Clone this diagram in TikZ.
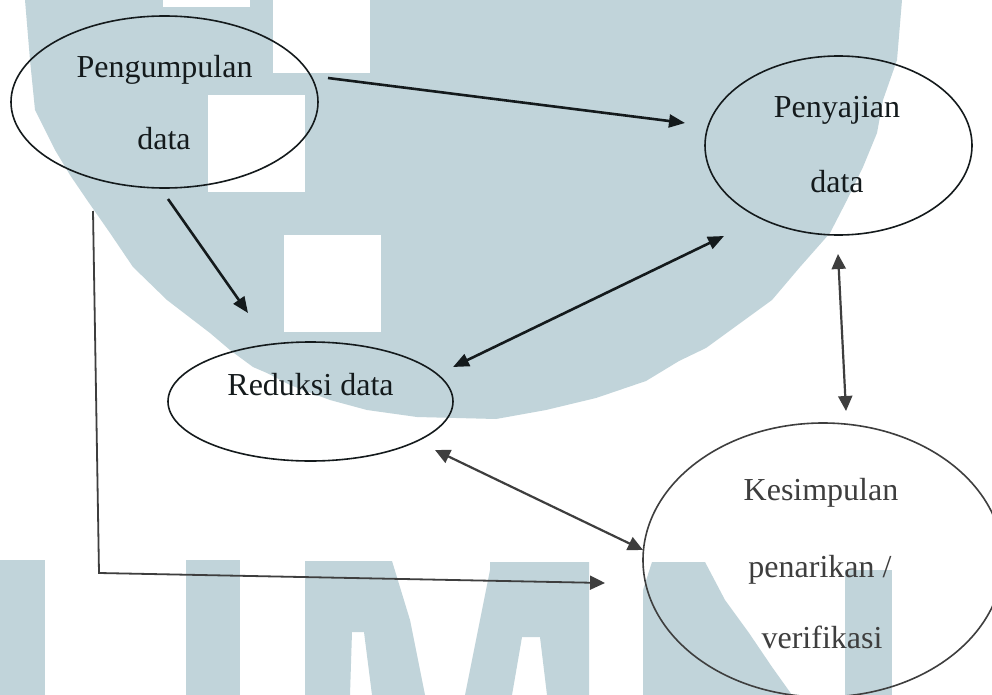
\documentclass[tikz,border=0pt]{standalone}
\usepackage{fontspec}
\setmainfont{Liberation Serif}
\usetikzlibrary{arrows.meta,shapes.geometric}
\definecolor{wm}{RGB}{193,212,218}
\definecolor{ink}{RGB}{20,26,28}
\definecolor{inkg}{RGB}{62,62,62}
\begin{document}
\begin{tikzpicture}[x=1pt,y=-1pt,
  oval/.style={ellipse,draw=ink,line width=1.6pt,inner sep=0pt,outer sep=0pt},
  lbl/.style={anchor=base,inner sep=0pt,font=\fontsize{32}{38}\selectfont,text=ink},
  lblg/.style={lbl,text=inkg},
  conn/.style={draw=ink,line width=2.6pt,-{Triangle[length=16pt,width=13pt]}},
  dconn/.style={draw=ink,line width=2.6pt,{Triangle[length=16pt,width=13pt]}-{Triangle[length=16pt,width=13pt]}},
  dconng/.style={draw=inkg,line width=2.2pt,{Triangle[length=15pt,width=14pt]}-{Triangle[length=15pt,width=14pt]}},
  elbow/.style={draw=inkg,line width=1.8pt,-{Triangle[length=15pt,width=14pt]}}]
\useasboundingbox (0,0) rectangle (992,695);
\fill[white] (0,0) rectangle (992,695);
% watermark
\fill[wm] (25,0) -- (902,0) -- (897,60) -- (883,100) -- (877,133) -- (863,167) -- (847,200) -- (830,233) -- (800,267) -- (772,300) -- (706,348) -- (679,361) -- (646,381) -- (596,398) -- (546,410) -- (496,419) -- (417,417) -- (367,410) -- (330,400) -- (290,385) -- (267,373) -- (253,367) -- (230,350) -- (210,333) -- (167,300) -- (133,267) -- (110,233) -- (87,200) -- (70,175) -- (55,150) -- (45,130) -- (35,110) -- (30,60) -- cycle;
\fill[white] (163,0) rectangle (250,7);
\fill[white] (273,0) rectangle (370,73);
\fill[white] (208,95) rectangle (305,192);
\fill[white] (284,235) rectangle (381,332);
\fill[wm] (0,560) rectangle (45,695);
\fill[wm] (186,560) rectangle (240,695);
\fill[wm] (305,561) -- (392,561) -- (410,620) -- (425,695) -- (372,695) -- (364,632) -- (352,632) -- (350,695) -- (305,695) -- cycle;
\fill[wm] (490,562) -- (589,562) -- (589,695) -- (547,695) -- (540,637) -- (522,637) -- (512,695) -- (465,695) -- (480,620) -- (490,570) -- cycle;
\fill[wm] (652,562) -- (705,562) -- (725,600) -- (749,633) -- (772,667) -- (792,695) -- (643,695) -- (643,590) -- cycle;
\fill[wm] (845,570) rectangle (892,695);
% ellipses
\node[oval,minimum width=307pt,minimum height=172pt] (e1) at (164.5,102) {};
\node[oval,minimum width=267pt,minimum height=179pt] (e2) at (838.5,145.5) {};
\node[oval,minimum width=285pt,minimum height=119pt] (e3) at (310.5,401.5) {};
\node[oval,draw=inkg,minimum width=360pt,minimum height=274pt] (e4) at (823,560) {};
% labels
\node[lbl] (t1a) at (164.5,78) {Pengumpulan};
\node[lbl] (t1b) at (164,150) {data};
\node[lbl] (t2a) at (837,118) {Penyajian};
\node[lbl] (t2b) at (837,192) {data};
\node[lbl] (t3) at (310.5,395) {Reduksi data};
\node[lblg] (t4a) at (821,500) {Kesimpulan};
\node[lblg] (t4b) at (820,577) {penarikan /};
\node[lblg] (t4c) at (822,648) {verifikasi};
% connector ends
\coordinate (a1s) at (328,78);
\coordinate (a1e) at (685,123);
\coordinate (a2s) at (168,199);
\coordinate (a2e) at (248,313);
\coordinate (a3s) at (453,367);
\coordinate (a3e) at (724,236);
\coordinate (a4s) at (838,254);
\coordinate (a4e) at (846,411);
\coordinate (a5s) at (435,450);
\coordinate (a5e) at (643,550);
\coordinate (a6s) at (93,211);
\coordinate (a6m) at (99,573);
\coordinate (a6e) at (605,583);
% connectors
\draw[conn] (a1s) -- (a1e);
\draw[conn] (a2s) -- (a2e);
\draw[dconn] (a3s) -- (a3e);
\draw[dconng] (a4s) -- (a4e);
\draw[dconng] (a5s) -- (a5e);
\draw[elbow] (a6s) -- (a6m) -- (a6e);
\end{tikzpicture}
\end{document}
